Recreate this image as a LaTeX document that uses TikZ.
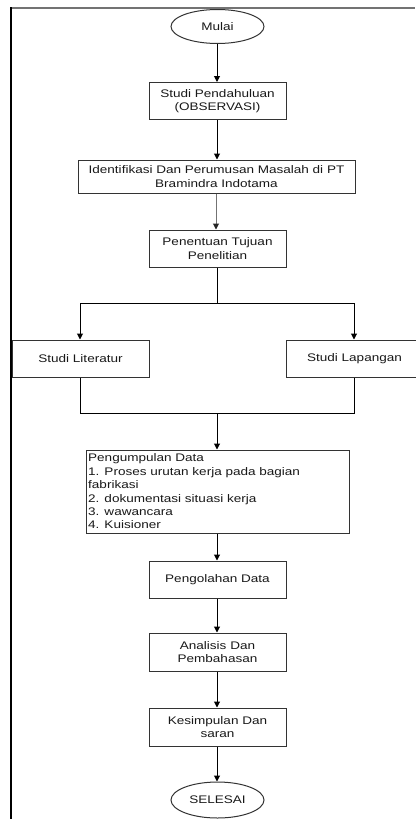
\documentclass[tikz,border=0pt]{standalone}
\usepackage{fontspec}
\setmainfont{Liberation Sans}[FakeStretch=1.23]
\usetikzlibrary{shapes.geometric,arrows.meta}
\begin{document}
\begin{tikzpicture}[x=1pt,y=-1pt,
  txt/.style={font=\fontsize{11}{13.4}\selectfont, text=black!90},
  box/.style={txt, draw=black!80, line width=1pt, rectangle, inner sep=0pt, minimum width=137pt, minimum height=37pt, align=center},
  term/.style={txt, draw=black!80, line width=1pt, ellipse, inner sep=0pt, minimum width=93pt, minimum height=34pt},
  conn/.style={draw=black, line width=1pt, -{Triangle[width=6pt,length=6pt]}},
  line/.style={draw=black, line width=1pt}
]
\useasboundingbox (0,0) rectangle (415,819);
\fill[white] (0,0) rectangle (415,819);
% frame
\draw[black!55, line width=2pt] (10,8) -- (415,8);
\draw[black, line width=2.4pt] (11,7) -- (11,819);

\node[term] (mulai) at (217.5,26.5) {Mulai};
\node[box] (sp) at (217.5,101) {Studi Pendahuluan\\(OBSERVASI)};
\node[box, minimum width=277pt, minimum height=33pt] (id) at (216.5,176.5) {Identifikasi Dan Perumusan Masalah di PT\\Bramindra Indotama};
\node[box] (pt) at (217.5,248.5) {Penentuan Tujuan\\Penelitian};
\node[box] (sl) at (80.5,358.5) {Studi Literatur};
\node[box] (slap) at (354.5,358.5) {Studi Lapangan};
\node[box, minimum width=263pt, minimum height=83pt] (pd) at (217.5,491.5) {};
\node[txt, anchor=west, align=left, inner sep=0pt] (pdtext) at (88,491.5) {Pengumpulan Data\\1. Proses urutan kerja pada bagian\\fabrikasi\\2. dokumentasi situasi kerja\\3. wawancara\\4. Kuisioner};
\node[box] (po) at (217.5,579.5) {Pengolahan Data};
\node[box, minimum height=38pt] (ap) at (217.5,652) {Analisis Dan\\Pembahasan};
\node[box, minimum height=38pt] (ks) at (217.5,727) {Kesimpulan Dan\\saran};
\node[term, minimum height=36pt] (selesai) at (217.5,800) {SELESAI};

\coordinate (split) at (217,303);
\coordinate (splitL) at (80,303);
\coordinate (splitR) at (354,303);
\coordinate (mergeL) at (80,413);
\coordinate (mergeR) at (354,413);
\coordinate (merge) at (217,413);

\draw[conn] (mulai.south -| 217,0) -- (sp.north -| 217,0);
\draw[conn] (sp.south -| 217,0) -- (id.north -| 217,0);
\draw[draw=black!55, line width=1pt, -{Triangle[width=6pt,length=6pt,color=black!85]}] (id.south -| 216,0) -- (pt.north -| 216,0);
\draw[line] (pt.south -| 217,0) -- (split);
\draw[line] (splitL) -- (splitR);
\draw[conn] (splitL) -- (sl.north -| splitL);
\draw[conn] (splitR) -- (slap.north -| splitR);
\draw[line] (sl.south -| mergeL) -- (mergeL) -- (mergeR) -- (slap.south -| mergeR);
\draw[conn] (merge) -- (pd.north -| merge);
\draw[conn] (pd.south -| 217,0) -- (po.north -| 217,0);
\draw[conn] (po.south -| 217,0) -- (ap.north -| 217,0);
\draw[conn] (ap.south -| 217,0) -- (ks.north -| 217,0);
\draw[conn] (ks.south -| 217,0) -- (selesai.north -| 217,0);
\end{tikzpicture}
\end{document}
